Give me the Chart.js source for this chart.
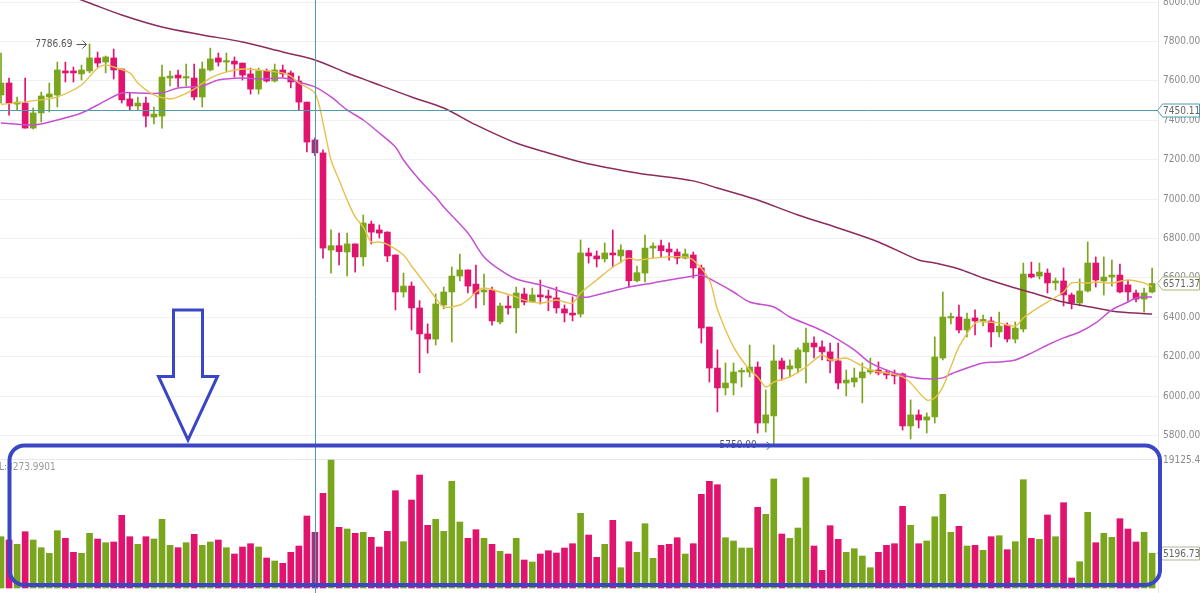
<!DOCTYPE html>
<html>
<head>
<meta charset="utf-8">
<script src="https://cdn.jsdelivr.net/npm/chart.js@4.4.1/dist/chart.umd.min.js"></script>
<style>
  html, body { margin: 0; padding: 0; background: #fff; overflow: hidden; }
  #wrap { width: 1200px; height: 593px; }
</style>
</head>
<body>
<div id="wrap"><canvas id="kline"></canvas></div>
<script>
// ===== Datos (144 velas) =====
const opens = [
  7528,7589,7482,7487,7360,7437,7518,7528,7650,7650, 7635,7650,7716,7695,7716,7660,7508,7472,7487,7416,
  7421,7614,7629,7614,7614,7518,7655,7716,7695,7700, 7690,7635,7558,7650,7599,7655,7640,7599,7492,7300,
  7234,6741,6763,6731,6772,6706,6873,6843,6832,6716, 6528,6558,6447,6315,6289,6462,6528,6609,6640,6568,
  6528,6538,6376,6457,6447,6518,6477,6513,6508,6498, 6442,6421,6416,6726,6711,6696,6726,6711,6738,6585,
  6624,6751,6763,6746,6731,6700,6716,6650,6350,6142, 6041,6066,6122,6122,6147,5863,5899,6178,6137,6142,
  6224,6269,6249,6224,6178,6066,6071,6092,6122,6132, 6122,6112,6112,5848,5904,5878,5894,6193,6396,6401,
  6335,6396,6381,6381,6325,6360,6289,6340,6619,6609, 6624,6574,6584,6513,6472,6533,6675,6584,6604,6614,
  6564,6523,6492,6528
];
const closes = [
  7589,7487,7492,7360,7437,7523,7533,7655,7640,7640, 7655,7716,7690,7721,7655,7503,7472,7487,7421,7431,
  7619,7624,7614,7619,7518,7660,7711,7695,7700,7685, 7629,7558,7650,7599,7655,7635,7594,7492,7289,7234,
  6751,6763,6733,6772,6706,6878,6832,6827,6711,6528, 6558,6447,6315,6289,6467,6528,6609,6640,6558,6518,
  6538,6381,6457,6447,6523,6477,6513,6503,6498,6447, 6421,6411,6726,6711,6696,6726,6716,6741,6585,6626,
  6751,6761,6738,6731,6700,6721,6650,6345,6142,6041, 6066,6122,6127,6147,5863,5904,6178,6137,6153,6234,
  6269,6249,6224,6178,6066,6081,6092,6122,6132,6117, 6107,6102,5848,5904,5878,5894,6198,6401,6401,6335,
  6391,6381,6386,6325,6355,6289,6345,6619,6604,6629, 6574,6584,6513,6472,6533,6675,6589,6604,6614,6528,
  6528,6492,6523,6571.37
];
const highs = [
  7741,7614,7518,7614,7462,7543,7589,7695,7695,7670, 7680,7786.69,7746,7726,7761,7660,7538,7518,7518,7467,
  7680,7650,7655,7685,7685,7695,7766,7741,7741,7721, 7690,7665,7665,7660,7685,7680,7650,7624,7492,7310,
  7249,6843,6827,6827,6772,6919,6888,6868,6834,6716, 6624,6579,6484,6366,6518,6553,6655,6721,6640,6665,
  6619,6553,6472,6508,6553,6548,6548,6589,6538,6553, 6462,6503,6792,6751,6736,6777,6843,6767,6738,6660,
  6817,6777,6792,6777,6746,6746,6731,6665,6350,6234, 6168,6168,6142,6259,6173,6031,6259,6193,6183,6244,
  6345,6300,6280,6269,6269,6132,6142,6168,6193,6173, 6132,6132,6117,5980,5929,5914,6300,6528,6421,6462,
  6421,6437,6411,6401,6426,6371,6376,6675,6680,6675, 6645,6599,6650,6523,6594,6782,6706,6706,6690,6670,
  6589,6538,6548,6650
];
const lows = [
  7487,7426,7452,7360,7355,7391,7442,7467,7594,7594, 7604,7640,7670,7640,7609,7487,7452,7452,7366,7381,
  7360,7574,7569,7574,7503,7467,7650,7675,7645,7619, 7604,7533,7533,7594,7594,7619,7564,7452,7239,7220,
  6700,6624,6665,6609,6629,6660,6772,6802,6682,6437, 6502,6335,6118,6218,6259,6442,6274,6584,6523,6447,
  6462,6360,6366,6416,6320,6462,6477,6467,6433,6421, 6376,6381,6401,6675,6655,6680,6655,6675,6553,6579,
  6579,6700,6706,6690,6670,6696,6599,6269,6071,5919, 6005,6005,6046,6097,5812,5817,5750,6081,6097,6117,
  6066,6193,6183,6117,6036,6000,6046,5965,6112,6107, 6087,6061,5827,5782,5838,5812,5863,6183,6366,6320,
  6300,6310,6356,6249,6300,6274,6269,6325,6599,6594, 6523,6538,6457,6442,6457,6528,6553,6513,6558,6523,
  6482,6477,6426,6523
];
const volumes = [
  7664,7171,6528,8411,7171,6021,5184,8561,7425,5333, 5184,8172,7321,6768,6872,10861,7664,6528,7664,7321,
  10264,6379,6021,6768,8023,6379,6872,7171,6021,5080, 6125,6618,6125,4482,4034,3690,5333,6275,10757,8322,
  14148,19125.49,9069,8815,8172,8322,7575,6125,8471,14537, 6917,13147,16882,9367,10264,8471,15941,9860,7425,8710,
  7425,6528,5483,5080,7425,4183,3884,5080,5573,5229, 5976,6618,11160,7918,4587,6528,10114,3033,6917,5333,
  9606,4437,6379,6528,7515,5080,6618,13998,15941,15433, 7515,7022,5976,5976,12056,11011,16285,8068,7425,8964,
  16480,6275,2644,9308,7276,5333,5871,4781,3033,5333, 6379,6618,12206,9367,6618,7022,10652,13998,8322,9218,
  6275,6379,5632,7664,7814,5722,6917,16180,7425,7276, 10906,7664,12744,1494,3929,11310,6768,8172,7575,10353,
  8815,6872,8322,5196.73
];

// Medias moviles: [indice de vela, valor]
const maFast = [
  [0,7480],[5,7503],[7,7518],[10,7579],[12,7665],[13,7680],[14,7670],[16,7640],[17,7589],[19,7528],
  [21,7508],[22,7518],[24,7558],[26,7614],[28,7645],[30,7660],[32,7655],[35,7640],[36,7624],[37,7589],
  [39,7538],[40,7386],[41,7198],[42,7096],[43,6995],[44,6909],[45,6858],[46,6782],[47,6782],[48,6770],
  [50,6716],[51,6660],[53,6553],[54,6497],[55,6452],[57,6462],[58,6487],[59,6528],[60,6548],[62,6528],
  [64,6503],[65,6487],[67,6472],[69,6487],[70,6477],[71,6472],[72,6523],[74,6589],[76,6655],[77,6680],
  [78,6700],[79,6690],[81,6700],[83,6706],[85,6706],[86,6690],[88,6589],[89,6440],[91,6249],[93,6132],
  [94,6097],[95,6046],[96,6071],[98,6097],[100,6148],[102,6208],[103,6183],[105,6193],[106,6173],[108,6132],
  [110,6117],[112,6097],[113,6066],[115,5980],[116,5990],[117,6046],[118,6148],[119,6249],[121,6371],[122,6376],
  [124,6371],[126,6355],[127,6396],[128,6426],[130,6477],[132,6528],[133,6574],[135,6574],[136,6579],[138,6574],
  [140,6589],[142,6574],[143,6553]
];
const maMid = [
  [0,7386],[4,7376],[6,7391],[10,7437],[12,7477],[15,7538],[17,7538],[20,7538],[22,7564],[25,7574],
  [27,7604],[30,7614],[32,7609],[35,7614],[37,7594],[39,7569],[41,7518],[43,7452],[45,7401],[47,7335],
  [49,7264],[50,7198],[52,7096],[54,7010],[55,6959],[58,6827],[60,6706],[62,6640],[64,6594],[67,6564],
  [69,6538],[72,6503],[73,6503],[74,6513],[77,6543],[78,6553],[81,6574],[83,6589],[86,6609],[87,6614],
  [89,6574],[91,6528],[93,6477],[96,6452],[98,6401],[101,6350],[103,6310],[106,6234],[108,6168],[111,6117],
  [113,6097],[115,6087],[117,6092],[118,6112],[120,6142],[122,6168],[124,6173],[126,6183],[128,6218],[130,6259],
  [132,6295],[134,6325],[136,6371],[138,6437],[140,6477],[141,6498],[143,6503]
];
const maSlow = [
  [8,8040],[11,7995],[15,7934],[20,7873],[25,7833],[30,7797],[35,7746],[39,7706],[43,7640],[46,7594],
  [51,7518],[55,7462],[59,7376],[64,7284],[68,7234],[72,7188],[74,7170],[79,7132],[86,7092],[89,7056],
  [92,7020],[94,6995],[99,6919],[104,6853],[109,6782],[114,6690],[116,6675],[119,6645],[122,6599],[126,6548],
  [129,6513],[132,6477],[136,6447],[139,6426],[143,6416]
];

// Ejes
const priceTicks = [5800, 6000, 6200, 6400, 6600, 6800, 7000, 7200, 7400, 7600, 7800, 8000];
const volTicks = [19125.49];
const crossPrice = 7450.11;
const crossIndex = 39;
const hiIndex = 11;
const loIndex = 96;
const volLabel = 'VOL:8273.9901';

// ===== Estilos =====
const UP = '#79a61c', DOWN = '#e0136f';
const UP_HI = '#5d8a1a', DOWN_HI = '#a8307a';
const TEAL = '#4f9cab';
const BLUE = '#3b46c6';
const FONT = "'Liberation Sans Narrow','DejaVu Sans Condensed','Liberation Sans',sans-serif";
const AXIS_W = 42;

const isUp = i => closes[i] >= opens[i];
const colorAt = i => i === crossIndex ? (isUp(i) ? UP_HI : DOWN_HI) : (isUp(i) ? UP : DOWN);

function tag(ctx, yPix, text, stroke){
  ctx.beginPath();
  ctx.moveTo(1157.5, yPix);
  ctx.lineTo(1162.5, yPix - 6.5);
  ctx.lineTo(1199.5, yPix - 6.5);
  ctx.lineTo(1199.5, yPix + 6.5);
  ctx.lineTo(1162.5, yPix + 6.5);
  ctx.closePath();
  ctx.fillStyle = '#fff'; ctx.fill();
  ctx.strokeStyle = stroke; ctx.lineWidth = 1; ctx.stroke();
  ctx.fillStyle = '#666';
  ctx.textAlign = 'left'; ctx.textBaseline = 'middle';
  ctx.fillText(text, 1163, yPix + 0.5);
}

function markLabel(ctx, px, py, text){
  ctx.fillStyle = '#555';
  ctx.textAlign = 'right'; ctx.textBaseline = 'middle';
  ctx.fillText(text, px - 17, py);
  ctx.strokeStyle = '#555'; ctx.lineWidth = 1;
  ctx.beginPath();
  ctx.moveTo(px - 13, py + 0.5); ctx.lineTo(px - 3, py + 0.5);
  ctx.moveTo(px - 7, py - 3.5); ctx.lineTo(px - 3, py + 0.5); ctx.lineTo(px - 7, py + 4.5);
  ctx.stroke();
}

const overlay = {
  id: 'overlay',
  afterLayout(chart){
    // el eje de volumen ocupa 0px en el layout, pero sus etiquetas necesitan sitio para dibujarse
    const s = chart.scales.yv;
    s.right = s.left + AXIS_W;
    s.width = AXIS_W;
  },
  afterDatasetsDraw(chart){
    const {ctx, chartArea: a, scales: {x, y}} = chart;
    ctx.save();
    ctx.strokeStyle = TEAL; ctx.lineWidth = 1;
    const cy = Math.round(y.getPixelForValue(crossPrice)) + 0.5;
    ctx.beginPath(); ctx.moveTo(a.left, cy); ctx.lineTo(a.right, cy); ctx.stroke();
    const cx = Math.round(x.getPixelForValue(crossIndex)) + 0.5;
    ctx.beginPath(); ctx.moveTo(cx, a.top); ctx.lineTo(cx, a.bottom); ctx.stroke();

    ctx.font = `10px ${FONT}`;
    markLabel(ctx, x.getPixelForValue(hiIndex), y.getPixelForValue(highs[hiIndex]), highs[hiIndex].toFixed(2));
    markLabel(ctx, x.getPixelForValue(loIndex), y.getPixelForValue(lows[loIndex]), lows[loIndex].toFixed(2));

    ctx.fillStyle = '#999';
    ctx.textAlign = 'left'; ctx.textBaseline = 'middle';
    ctx.fillText(volLabel, -14, 467);
    ctx.restore();
  },
  afterDraw(chart){
    const {ctx, scales: {y, yv}} = chart;
    ctx.save();
    ctx.font = `10px ${FONT}`;
    tag(ctx, Math.round(y.getPixelForValue(crossPrice)) + 0.5, crossPrice.toFixed(2), TEAL);
    const last = closes.length - 1;
    tag(ctx, Math.round(y.getPixelForValue(closes[last])) + 0.5, closes[last].toFixed(2), '#a9b873');
    tag(ctx, Math.round(yv.getPixelForValue(volumes[last])) + 0.5, volumes[last].toFixed(2), '#aab59a');

    // anotacion azul (flecha hueca + recuadro)
    ctx.strokeStyle = BLUE;
    ctx.lineJoin = 'miter';
    ctx.lineWidth = 3;
    ctx.beginPath();
    ctx.moveTo(173.5, 310); ctx.lineTo(202.5, 310); ctx.lineTo(202.5, 376.5);
    ctx.lineTo(217.5, 376.5); ctx.lineTo(188, 440); ctx.lineTo(158.5, 376.5);
    ctx.lineTo(173.5, 376.5); ctx.closePath();
    ctx.stroke();

    ctx.lineWidth = 4;
    ctx.beginPath();
    ctx.roundRect(9.5, 445.5, 1150.5, 139.5, 15);
    ctx.stroke();
    ctx.restore();
  }
};

const idx = opens.map((_, i) => i);

new Chart(document.getElementById('kline'), {
  data: {
    datasets: [
      { type: 'line', label: 'MA5', data: maFast.map(([i, v]) => ({x: i, y: v})), yAxisID: 'y',
        borderColor: '#e6c14e', borderWidth: 1.4, pointRadius: 0, tension: 0.3, order: 0 },
      { type: 'line', label: 'MA30', data: maMid.map(([i, v]) => ({x: i, y: v})), yAxisID: 'y',
        borderColor: '#c650d2', borderWidth: 1.5, pointRadius: 0, tension: 0.3, order: 0 },
      { type: 'line', label: 'MA60', data: maSlow.map(([i, v]) => ({x: i, y: v})), yAxisID: 'y',
        borderColor: '#8d2b5c', borderWidth: 1.5, pointRadius: 0, tension: 0.3, order: 0 },
      { type: 'bar', label: 'cuerpo', data: idx.map(i => ({x: i, y: [opens[i], closes[i]]})), yAxisID: 'y',
        backgroundColor: c => colorAt(c.dataIndex), barThickness: 6, minBarLength: 1.5, grouped: false, order: 2 },
      { type: 'bar', label: 'mecha', data: idx.map(i => ({x: i, y: [lows[i], highs[i]]})), yAxisID: 'y',
        backgroundColor: c => colorAt(c.dataIndex), barThickness: 1, grouped: false, order: 3 },
      { type: 'bar', label: 'VOL', data: idx.map(i => ({x: i, y: volumes[i]})), yAxisID: 'yv',
        backgroundColor: c => colorAt(c.dataIndex), barThickness: 6, grouped: false, order: 4 }
    ]
  },
  options: {
    responsive: true,
    maintainAspectRatio: false,
    animation: false,
    devicePixelRatio: 1,
    layout: { padding: 0 },
    plugins: { legend: { display: false }, tooltip: { enabled: false } },
    events: [],
    scales: {
      x: { type: 'linear', min: -0.124, max: 143.73, offset: false, display: false },
      y: {
        position: 'right', weight: 1, min: 5000, max: 8010.2,
        afterBuildTicks: s => { s.ticks = priceTicks.map(v => ({value: v})); },
        afterFit: s => { s.width = AXIS_W; s.paddingTop = 0; s.paddingBottom = 0; },
        ticks: { padding: 5, color: '#8a8a8a', font: { family: FONT, size: 10 }, callback: v => Number(v).toFixed(2) },
        grid: { color: '#f0f0f0', drawTicks: false },
        border: { display: true, color: '#e2e8ec' }
      },
      yv: {
        position: 'right', weight: 0, min: -747, max: 87850,
        afterBuildTicks: s => { s.ticks = volTicks.map(v => ({value: v})); },
        afterFit: s => { s.width = 0; s.paddingTop = 0; s.paddingBottom = 0; },
        ticks: { padding: 5, color: '#8a8a8a', font: { family: FONT, size: 10 }, callback: v => Number(v).toFixed(2) },
        grid: { color: '#e8e8e8', drawTicks: false },
        border: { display: false }
      }
    }
  },
  plugins: [overlay]
});
</script>
</body>
</html>
